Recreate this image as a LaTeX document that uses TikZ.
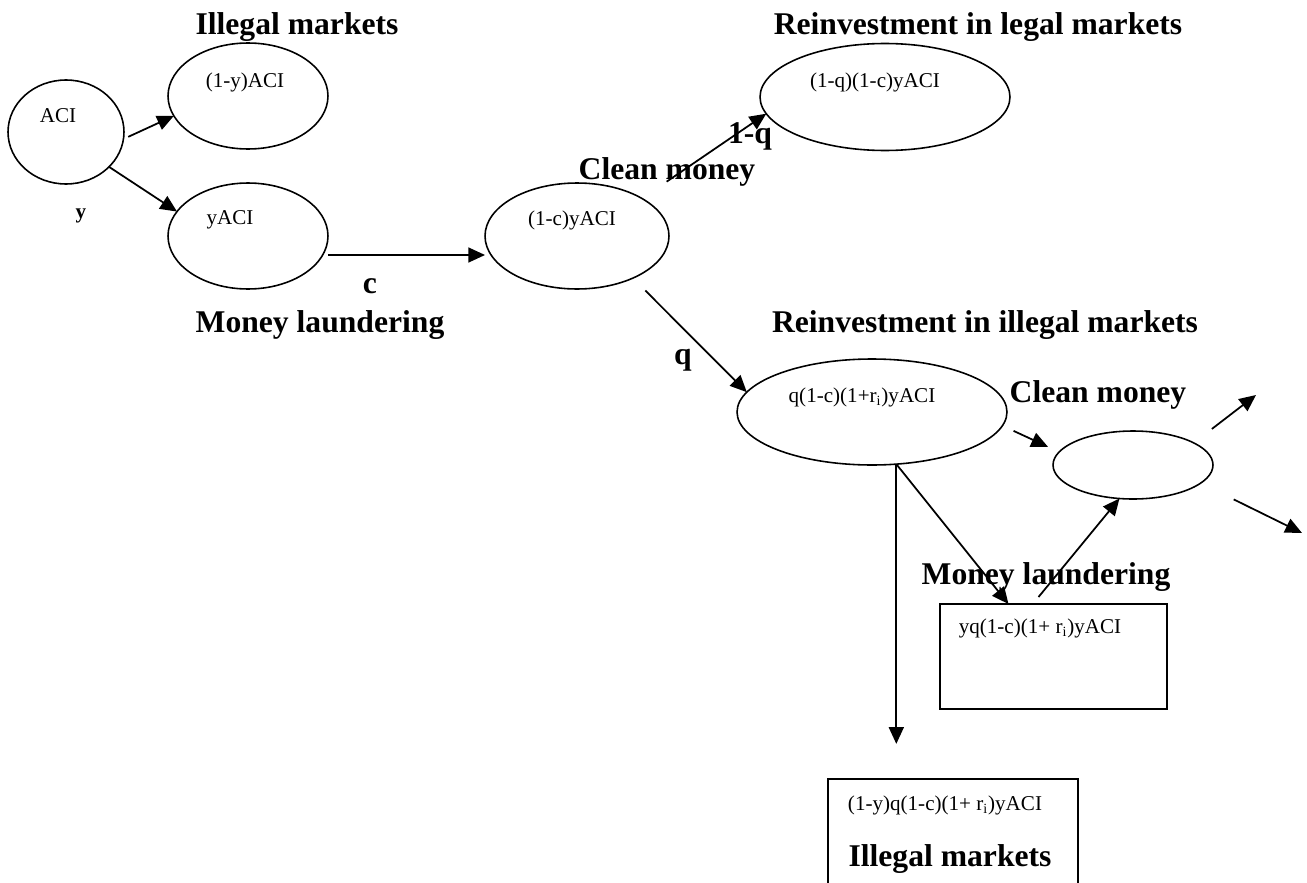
\documentclass[tikz,border=0pt]{standalone}
\usepackage{fontspec}
\setmainfont{Liberation Serif}
\usetikzlibrary{shapes.geometric,arrows.meta,calc,positioning}

\tikzset{
    oval/.style={draw, ellipse, line width=0.9pt, inner sep=0pt, outer sep=0pt},
    boxed/.style={draw, rectangle, line width=0.9pt, inner sep=0pt, outer sep=0pt},
    val/.style={font=\fontsize{12}{14}\selectfont, inner sep=0pt},
    head/.style={font=\fontsize{18}{20}\selectfont\bfseries, inner sep=0pt},
    arr/.style={-{Triangle[length=9.5pt,width=8.5pt]}, line width=1pt},
}

\begin{document}
\begin{tikzpicture}[x=0.02cm, y=-0.02cm]
            \useasboundingbox (0,0) rectangle (1307,882);
            \clip (0,0) rectangle (1307,882);
            % ovals and boxes
            \node[oval, minimum width=2.32cm, minimum height=2.08cm] (aci) at (66,132) {};
            \node[oval, minimum width=3.2cm, minimum height=2.12cm] (illeg) at (248,96) {};
            \node[oval, minimum width=3.2cm, minimum height=2.12cm] (yaci) at (248,236) {};
            \node[oval, minimum width=3.68cm, minimum height=2.12cm] (clean) at (577,236) {};
            \node[oval, minimum width=5cm, minimum height=2.14cm] (legal) at (885,97) {};
            \node[oval, minimum width=5.4cm, minimum height=2.12cm] (reinv) at (872,412) {};
            \node[oval, minimum width=3.2cm, minimum height=1.36cm] (clean2) at (1133,465) {};
            \node[boxed, minimum width=4.54cm, minimum height=2.1cm] (lau) at (1053.5,656.5) {};
            \node[boxed, minimum width=5cm, minimum height=2.6cm] (ill) at (953,844) {};
            \coordinate (out1) at (1256,395);
            \coordinate (out2) at (1302,533);

            % amounts
            \node[val] (v-aci) at (58,116) {ACI};
            \node[val] (v-illeg) at (245,82) {(1-y)ACI};
            \node[val] (v-yaci) at (230,220) {yACI};
            \node[val] (v-clean) at (572,220) {(1-c)yACI};
            \node[val] (v-legal) at (875,82) {(1-q)(1-c)yACI};
            \node[val] (v-reinv) at (862,397) {q(1-c)(1+r\textsubscript{i})yACI};
            \node[val] (v-lau) at (1040,628) {yq(1-c)(1+ r\textsubscript{i})yACI};
            \node[val] (v-ill) at (945,805) {(1-y)q(1-c)(1+ r\textsubscript{i})yACI};

            % headings and rates
            \node[head] (h-illeg) at (297,27) {Illegal markets};
            \node[head, font=\fontsize{12}{14}\selectfont\bfseries] (r-y) at (81,216) {y};
            \node[head] (r-c) at (370,286) {c};
            \node[head] (h-ml) at (320,325) {Money laundering};
            \node[head] (h-clean) at (667,172) {Clean money};
            \node[head] (r-1q) at (750,136) {1-q};
            \node[head] (h-legal) at (978,27) {Reinvestment in legal markets};
            \node[head] (r-q) at (683,360) {q};
            \node[head] (h-reinv) at (985,325) {Reinvestment in illegal markets};
            \node[head] (h-clean2) at (1098,395) {Clean money};
            \node[head] (h-ml2) at (1046,577) {Money laundering};
            \node[head] (h-ill) at (950,859) {Illegal markets};

            % flows
            \draw[arr, shorten <=3pt] (aci.-7) -- (illeg.195);
            \draw[arr] (aci.-39) -- (yaci.161);
            \draw[arr] (yaci.east) ++(0,19) coordinate (ml) -- (ml -| clean.west);
            \draw[arr, shorten <=17pt] (clean.30) -- (legal.188);
            \draw[arr, shorten <=10pt] (clean.-37) -- (reinv.171);
            \draw[arr, shorten <=7pt, shorten >=7pt] (reinv.-6) -- (clean2.170);
            \draw[arr, shorten <=13pt] (clean2.20) -- (out1);
            \draw[arr, shorten <=21pt] (clean2.-15) -- (out2);
            \draw[arr, shorten >=20pt] (reinv.-65) -- (reinv.-65 |- ill.north);
            \draw[arr] (reinv.-65) -- ($(lau.north)+(-45,0)$);
            \draw[arr] ($(lau.north)+(-15,-7)$) -- (clean2.-112);
        \end{tikzpicture}
\end{document}
